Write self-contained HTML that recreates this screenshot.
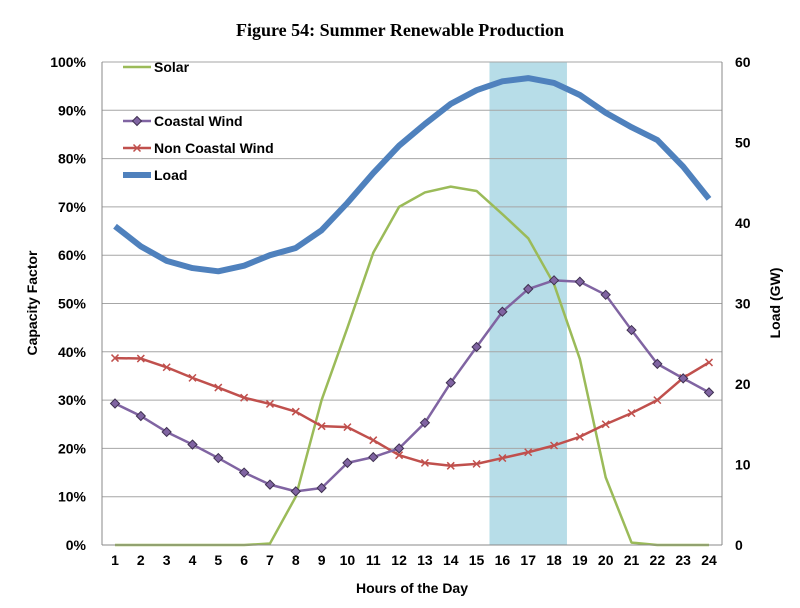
<!DOCTYPE html>
<html><head><meta charset="utf-8"><style>
body{margin:0;background:#fff;}
svg text{font-family:"Liberation Sans",sans-serif;fill:#000;}
</style></head><body>
<svg id="chart" width="800" height="603" xmlns="http://www.w3.org/2000/svg">
<text x="400" y="36" text-anchor="middle" style="font-family:'Liberation Serif',serif;font-weight:bold;font-size:18px">Figure 54:  Summer Renewable Production</text>
<g id="grid"></g><g id="series"></g><g id="axes"></g>
</svg>
<script>
const hours=[1,2,3,4,5,6,7,8,9,10,11,12,13,14,15,16,17,18,19,20,21,22,23,24];
const solar=[0,0,0,0,0,0,0.3,10,30,45,60.5,70,73,74.2,73.3,68.5,63.5,54,38.5,14,0.5,0,0,0];
const coastal=[29.3,26.7,23.4,20.8,18,15,12.5,11.1,11.8,17,18.2,20,25.3,33.6,41,48.3,53,54.8,54.5,51.8,44.5,37.5,34.5,31.6];
const nonCoastal=[38.7,38.6,36.8,34.6,32.6,30.5,29.2,27.6,24.6,24.4,21.7,18.6,17,16.4,16.8,18,19.2,20.6,22.4,25,27.3,30,34.6,37.8];
const load=[39.6,37.1,35.3,34.4,34.0,34.7,36.0,36.9,39.1,42.5,46.2,49.6,52.3,54.8,56.5,57.6,58.0,57.4,55.9,53.7,51.9,50.3,47.0,43.0];
const leftTicks=[0,10,20,30,40,50,60,70,80,90,100];
const rightTicks=[0,10,20,30,40,50,60];
const peakStart=15.5, peakEnd=18.5;
const NS='http://www.w3.org/2000/svg';
const L=102,R=722,T=62,B=545;
const x=h=>115+(h-1)*(709-115)/23;
const yL=v=>B-(v/100)*(B-T);
const yR=v=>B-(v/60)*(B-T);
function mk(tag,attrs,parent){const e=document.createElementNS(NS,tag);for(const k in attrs)e.setAttribute(k,attrs[k]);parent.appendChild(e);return e;}
const grid=document.getElementById('grid'),ser=document.getElementById('series'),ax=document.getElementById('axes');
const band=mk('rect',{x:x(peakStart),y:T,width:x(peakEnd)-x(peakStart),height:B-T,fill:'#b7dde8'},grid);


leftTicks.forEach(t=>{
 const g=mk('line',{x1:L,x2:R,y1:yL(t),y2:yL(t),stroke:'#a6a6a6','stroke-width':1},grid);
 
 
 const tx=mk('text',{x:L-16,y:yL(t)+5,'text-anchor':'end','font-size':14,'font-weight':'bold'},ax);tx.textContent=t+'%';
 
 
});
rightTicks.forEach(t=>{
 const tx=mk('text',{x:R+13,y:yR(t)+5,'font-size':14,'font-weight':'bold'},ax);tx.textContent=t;
 
 
});
hours.forEach(h=>{
 const tx=mk('text',{x:x(h),y:B+20,'text-anchor':'middle','font-size':14,'font-weight':'bold'},ax);tx.textContent=h;
 
 
});
mk('line',{x1:L,x2:L,y1:T,y2:B,stroke:'#888'},ax);
mk('line',{x1:R,x2:R,y1:T,y2:B,stroke:'#888'},ax);
mk('line',{x1:L,x2:R,y1:B,y2:B,stroke:'#888'},ax);
function line(vals,yf,color,w,name){
 const p=mk('polyline',{points:vals.map((v,i)=>x(hours[i])+','+yf(v)).join(' '),fill:'none',stroke:color,'stroke-width':w,'stroke-linejoin':'round'},ser);
 
 
}
line(solar,yL,'#9bbb59',2.5,'solar-line');
line(nonCoastal,yL,'#c0504d',2.5,'non-coastal-wind-line');
nonCoastal.forEach((v,i)=>{const cx=x(hours[i]),cy=yL(v);
 const m=mk('path',{d:`M${cx-3.5},${cy-3.5}L${cx+3.5},${cy+3.5}M${cx-3.5},${cy+3.5}L${cx+3.5},${cy-3.5}`,stroke:'#c0504d','stroke-width':1.5},ser);
 
 });
line(coastal,yL,'#8064a2',2.5,'coastal-wind-line');
coastal.forEach((v,i)=>{const cx=x(hours[i]),cy=yL(v);
 const m=mk('path',{d:`M${cx},${cy-4.5}L${cx+4.5},${cy}L${cx},${cy+4.5}L${cx-4.5},${cy}Z`,fill:'#8064a2',stroke:'#3f3151','stroke-width':1},ser);
 
 });
line(load,yR,'#4f81bd',6,'load-line');
// legend
const leg=[['Solar','#9bbb59',2.5,72],['Coastal Wind','#8064a2',2.5,126],['Non Coastal Wind','#c0504d',2.5,153],['Load','#4f81bd',6,180]];
leg.forEach(([n,c,w,yy])=>{
 const g=mk('g',{},ax);
 
 
 mk('line',{x1:123,x2:151,y1:yy-5,y2:yy-5,stroke:c,'stroke-width':w},g);
 if(n==='Coastal Wind')mk('path',{d:`M137,${yy-9.5}L141.5,${yy-5}L137,${yy-0.5}L132.5,${yy-5}Z`,fill:c,stroke:'#3f3151'},g);
 if(n==='Non Coastal Wind')mk('path',{d:`M133.5,${yy-8.5}L140.5,${yy-1.5}M133.5,${yy-1.5}L140.5,${yy-8.5}`,stroke:c,'stroke-width':1.5},g);
 const t=mk('text',{x:154,y:yy,'font-size':14,'font-weight':'bold'},g);t.textContent=n;
});
</script>
<style>#yl,#yr,#xt{position:absolute;font-family:"Liberation Sans",sans-serif;font-weight:bold;font-size:14px;}</style>
<div id="yl" style="left:-28px;top:295px;transform:rotate(-90deg);width:120px;text-align:center">Capacity Factor</div>
<div id="yr" style="left:730px;top:295px;transform:rotate(-90deg);width:90px;text-align:center">Load (GW)</div>
<div id="xt" style="left:312px;top:580px;width:200px;text-align:center">Hours of the Day</div>
</body></html>
